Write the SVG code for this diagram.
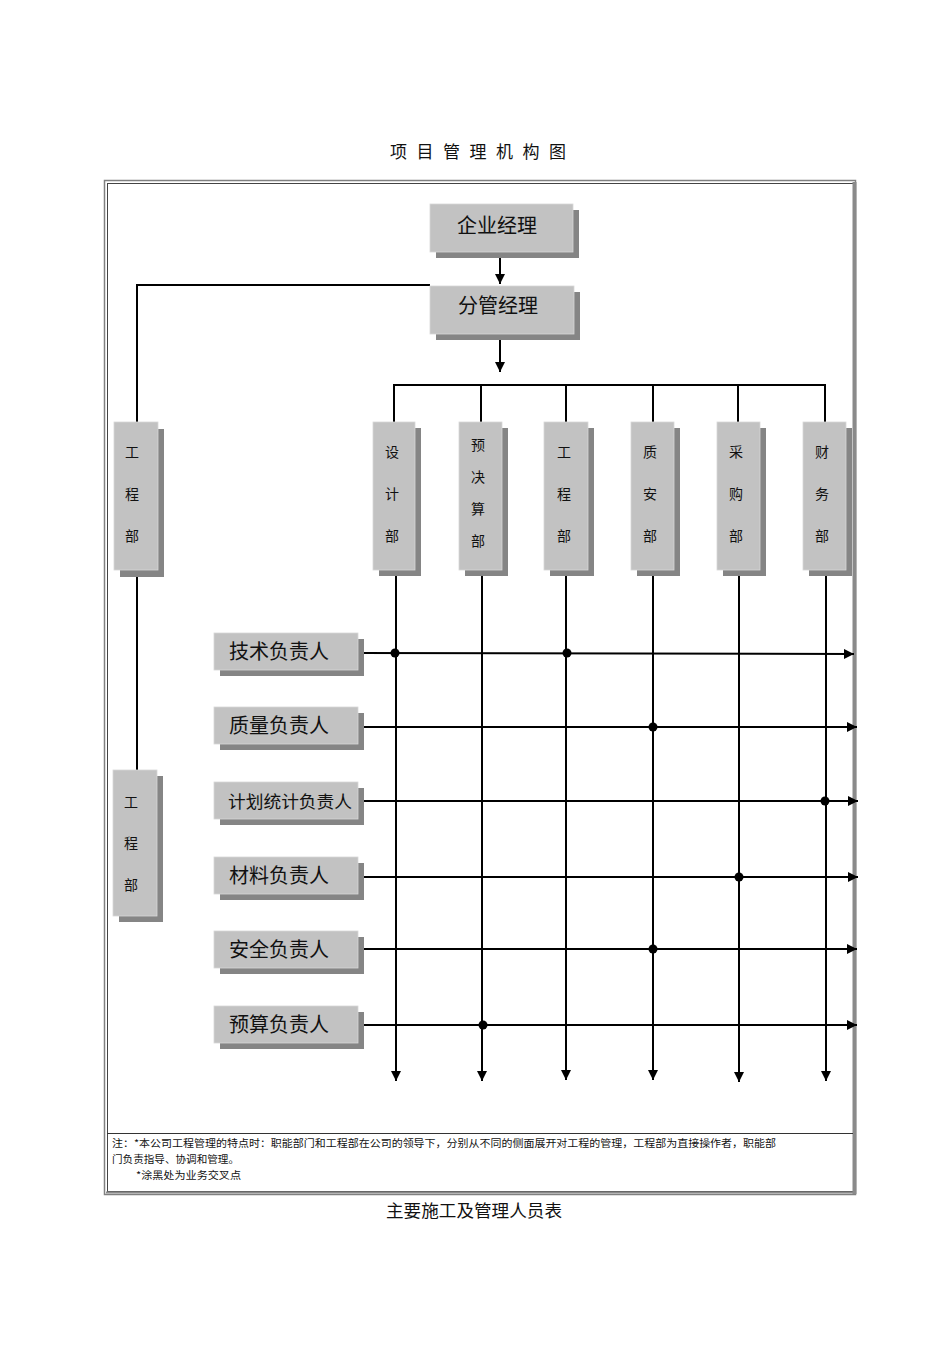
<svg xmlns="http://www.w3.org/2000/svg" width="950" height="1345" viewBox="0 0 950 1345">
<style>
.bg{fill:#ffffff}
.box{fill:#c2c2c2;stroke:#d8d8d8;stroke-width:0.8}
.sh{fill:#858585}
.t{font-family:"Noto Sans CJK SC","Noto Sans CJK JP",sans-serif;fill:#111}
.big{font-size:20px}
.mid{font-size:14px}
.ln{stroke:#000;stroke-width:2;fill:none}
.dot{fill:#000}
.title{font-family:"Noto Sans CJK SC",sans-serif;font-size:17px;fill:#111}
.note{font-family:"Noto Sans CJK SC",sans-serif;font-size:10px;fill:#111}
</style>
<defs>
<marker id="ah" viewBox="0 0 10 10" refX="10" refY="5" markerWidth="10" markerHeight="10" markerUnits="userSpaceOnUse" orient="auto">
<path d="M0,0 L10,5 L0,10 z" fill="#000"/>
</marker>
</defs>
<rect class="bg" x="0" y="0" width="950" height="1345"/>
<text class="title" x="390 407 416.5 434 443 460 469.5 487 496 513 522.5 540 549" y="158">项 目 管 理 机 构 图</text>

<g id="frame">
<rect x="104.5" y="180.5" width="751" height="1014" fill="none" stroke="#808080" stroke-width="1.5"/>
<rect x="107.5" y="183.5" width="746" height="1008" fill="none" stroke="#444" stroke-width="1"/>
<line x1="854.5" y1="182" x2="854.5" y2="1194" stroke="#8a8a8a" stroke-width="4"/>
<line x1="106" y1="1192.5" x2="856" y2="1192.5" stroke="#8a8a8a" stroke-width="2"/>
<line x1="107" y1="1133.5" x2="853" y2="1133.5" stroke="#333" stroke-width="1"/>
</g>

<g id="connectors">
<line class="ln" x1="500" y1="252" x2="500" y2="284" marker-end="url(#ah)"/>
<line class="ln" x1="500" y1="334" x2="500" y2="372" marker-end="url(#ah)"/>
<polyline class="ln" points="430,285 137,285 137,422"/>
<line class="ln" x1="137" y1="570" x2="137" y2="770"/>
<line class="ln" x1="393" y1="385" x2="826" y2="385"/>
<line class="ln" x1="394" y1="384" x2="394" y2="422"/>
<line class="ln" x1="481" y1="384" x2="481" y2="422"/>
<line class="ln" x1="566" y1="384" x2="566" y2="422"/>
<line class="ln" x1="653" y1="384" x2="653" y2="422"/>
<line class="ln" x1="738" y1="384" x2="738" y2="422"/>
<line class="ln" x1="825" y1="384" x2="825" y2="422"/>
<line class="ln" x1="396" y1="570" x2="396" y2="1081" marker-end="url(#ah)"/>
<line class="ln" x1="482" y1="570" x2="482" y2="1081" marker-end="url(#ah)"/>
<line class="ln" x1="566" y1="570" x2="566" y2="1080" marker-end="url(#ah)"/>
<line class="ln" x1="653" y1="570" x2="653" y2="1080" marker-end="url(#ah)"/>
<line class="ln" x1="739" y1="570" x2="739" y2="1082" marker-end="url(#ah)"/>
<line class="ln" x1="826" y1="570" x2="826" y2="1081" marker-end="url(#ah)"/>
<line class="ln" x1="358" y1="653" x2="854" y2="654" marker-end="url(#ah)"/>
<line class="ln" x1="358" y1="727" x2="857" y2="727" marker-end="url(#ah)"/>
<line class="ln" x1="358" y1="801" x2="858" y2="801" marker-end="url(#ah)"/>
<line class="ln" x1="358" y1="877" x2="858" y2="877" marker-end="url(#ah)"/>
<line class="ln" x1="358" y1="949" x2="857" y2="949" marker-end="url(#ah)"/>
<line class="ln" x1="358" y1="1025" x2="857" y2="1025" marker-end="url(#ah)"/>
<circle class="dot" cx="395" cy="653" r="4.5"/>
<circle class="dot" cx="567" cy="653" r="4.5"/>
<circle class="dot" cx="653" cy="727" r="4.5"/>
<circle class="dot" cx="825" cy="801" r="4.5"/>
<circle class="dot" cx="739" cy="877" r="4.5"/>
<circle class="dot" cx="653" cy="949" r="4.5"/>
<circle class="dot" cx="483" cy="1025" r="4.5"/>
</g>

<g id="n_qiye">
<rect class="sh" x="436" y="210" width="143" height="48"/>
<rect class="box" x="430" y="204" width="143" height="48"/>
<text class="t big" x="497" y="233" text-anchor="middle">企业经理</text>
</g>
<g id="n_fenguan">
<rect class="sh" x="436" y="292" width="144" height="48"/>
<rect class="box" x="430" y="286" width="144" height="48"/>
<text class="t big" x="498" y="313" text-anchor="middle">分管经理</text>
</g>

<g id="n_gcb1">
<rect class="sh" x="120" y="429" width="44" height="148"/>
<rect class="box" x="114" y="422" width="44" height="148"/>
<text class="t mid" x="132" y="457" text-anchor="middle">工</text>
<text class="t mid" x="132" y="499" text-anchor="middle">程</text>
<text class="t mid" x="132" y="541" text-anchor="middle">部</text>
</g>
<g id="n_gcb2">
<rect class="sh" x="119" y="776" width="44" height="146"/>
<rect class="box" x="113" y="770" width="44" height="146"/>
<text class="t mid" x="131" y="807" text-anchor="middle">工</text>
<text class="t mid" x="131" y="848" text-anchor="middle">程</text>
<text class="t mid" x="131" y="890" text-anchor="middle">部</text>
</g>

<g id="n_sheji">
<rect class="sh" x="379" y="428" width="42" height="148"/>
<rect class="box" x="373" y="422" width="42" height="148"/>
<text class="t mid" x="392" y="457" text-anchor="middle">设</text>
<text class="t mid" x="392" y="499" text-anchor="middle">计</text>
<text class="t mid" x="392" y="541" text-anchor="middle">部</text>
</g>
<g id="n_yujuesuan">
<rect class="sh" x="465" y="428" width="43" height="148"/>
<rect class="box" x="459" y="422" width="43" height="148"/>
<text class="t mid" x="478" y="450" text-anchor="middle">预</text>
<text class="t mid" x="478" y="482" text-anchor="middle">决</text>
<text class="t mid" x="478" y="514" text-anchor="middle">算</text>
<text class="t mid" x="478" y="546" text-anchor="middle">部</text>
</g>
<g id="n_gongcheng">
<rect class="sh" x="550" y="428" width="44" height="148"/>
<rect class="box" x="544" y="422" width="44" height="148"/>
<text class="t mid" x="564" y="457" text-anchor="middle">工</text>
<text class="t mid" x="564" y="499" text-anchor="middle">程</text>
<text class="t mid" x="564" y="541" text-anchor="middle">部</text>
</g>
<g id="n_zhian">
<rect class="sh" x="637" y="428" width="43" height="148"/>
<rect class="box" x="631" y="422" width="43" height="148"/>
<text class="t mid" x="650" y="457" text-anchor="middle">质</text>
<text class="t mid" x="650" y="499" text-anchor="middle">安</text>
<text class="t mid" x="650" y="541" text-anchor="middle">部</text>
</g>
<g id="n_caigou">
<rect class="sh" x="723" y="428" width="43" height="148"/>
<rect class="box" x="717" y="422" width="43" height="148"/>
<text class="t mid" x="736" y="457" text-anchor="middle">采</text>
<text class="t mid" x="736" y="499" text-anchor="middle">购</text>
<text class="t mid" x="736" y="541" text-anchor="middle">部</text>
</g>
<g id="n_caiwu">
<rect class="sh" x="809" y="428" width="43" height="148"/>
<rect class="box" x="803" y="422" width="43" height="148"/>
<text class="t mid" x="822" y="457" text-anchor="middle">财</text>
<text class="t mid" x="822" y="499" text-anchor="middle">务</text>
<text class="t mid" x="822" y="541" text-anchor="middle">部</text>
</g>

<g id="n_jishu">
<rect class="sh" x="220" y="639" width="144" height="37"/>
<rect class="box" x="214" y="633" width="144" height="37"/>
<text class="t big" x="229" y="659">技术负责人</text>
</g>
<g id="n_zhiliang">
<rect class="sh" x="220" y="713" width="144" height="37"/>
<rect class="box" x="214" y="707" width="144" height="37"/>
<text class="t big" x="229" y="733">质量负责人</text>
</g>
<g id="n_jihua">
<rect class="sh" x="220" y="788" width="144" height="37"/>
<rect class="box" x="214" y="782" width="144" height="37"/>
<text class="t" x="228" y="808" font-size="17" textLength="124" lengthAdjust="spacingAndGlyphs">计划统计负责人</text>
</g>
<g id="n_cailiao">
<rect class="sh" x="220" y="863" width="144" height="37"/>
<rect class="box" x="214" y="857" width="144" height="37"/>
<text class="t big" x="229" y="883">材料负责人</text>
</g>
<g id="n_anquan">
<rect class="sh" x="220" y="937" width="144" height="37"/>
<rect class="box" x="214" y="931" width="144" height="37"/>
<text class="t big" x="229" y="957">安全负责人</text>
</g>
<g id="n_yusuan">
<rect class="sh" x="220" y="1012" width="144" height="37"/>
<rect class="box" x="214" y="1006" width="144" height="37"/>
<text class="t big" x="229" y="1032">预算负责人</text>
</g>

<g id="note">
<text class="note" x="112" y="1147" textLength="664" lengthAdjust="spacingAndGlyphs">注：*本公司工程管理的特点时：职能部门和工程部在公司的领导下，分别从不同的侧面展开对工程的管理，工程部为直接操作者，职能部</text>
<text class="note" x="112" y="1163" textLength="127" lengthAdjust="spacingAndGlyphs">门负责指导、协调和管理。</text>
<text class="note" x="136" y="1179" textLength="105" lengthAdjust="spacingAndGlyphs">*涂黑处为业务交叉点</text>
</g>

<text class="title" x="386" y="1217" textLength="176" lengthAdjust="spacingAndGlyphs">主要施工及管理人员表</text>
</svg>
